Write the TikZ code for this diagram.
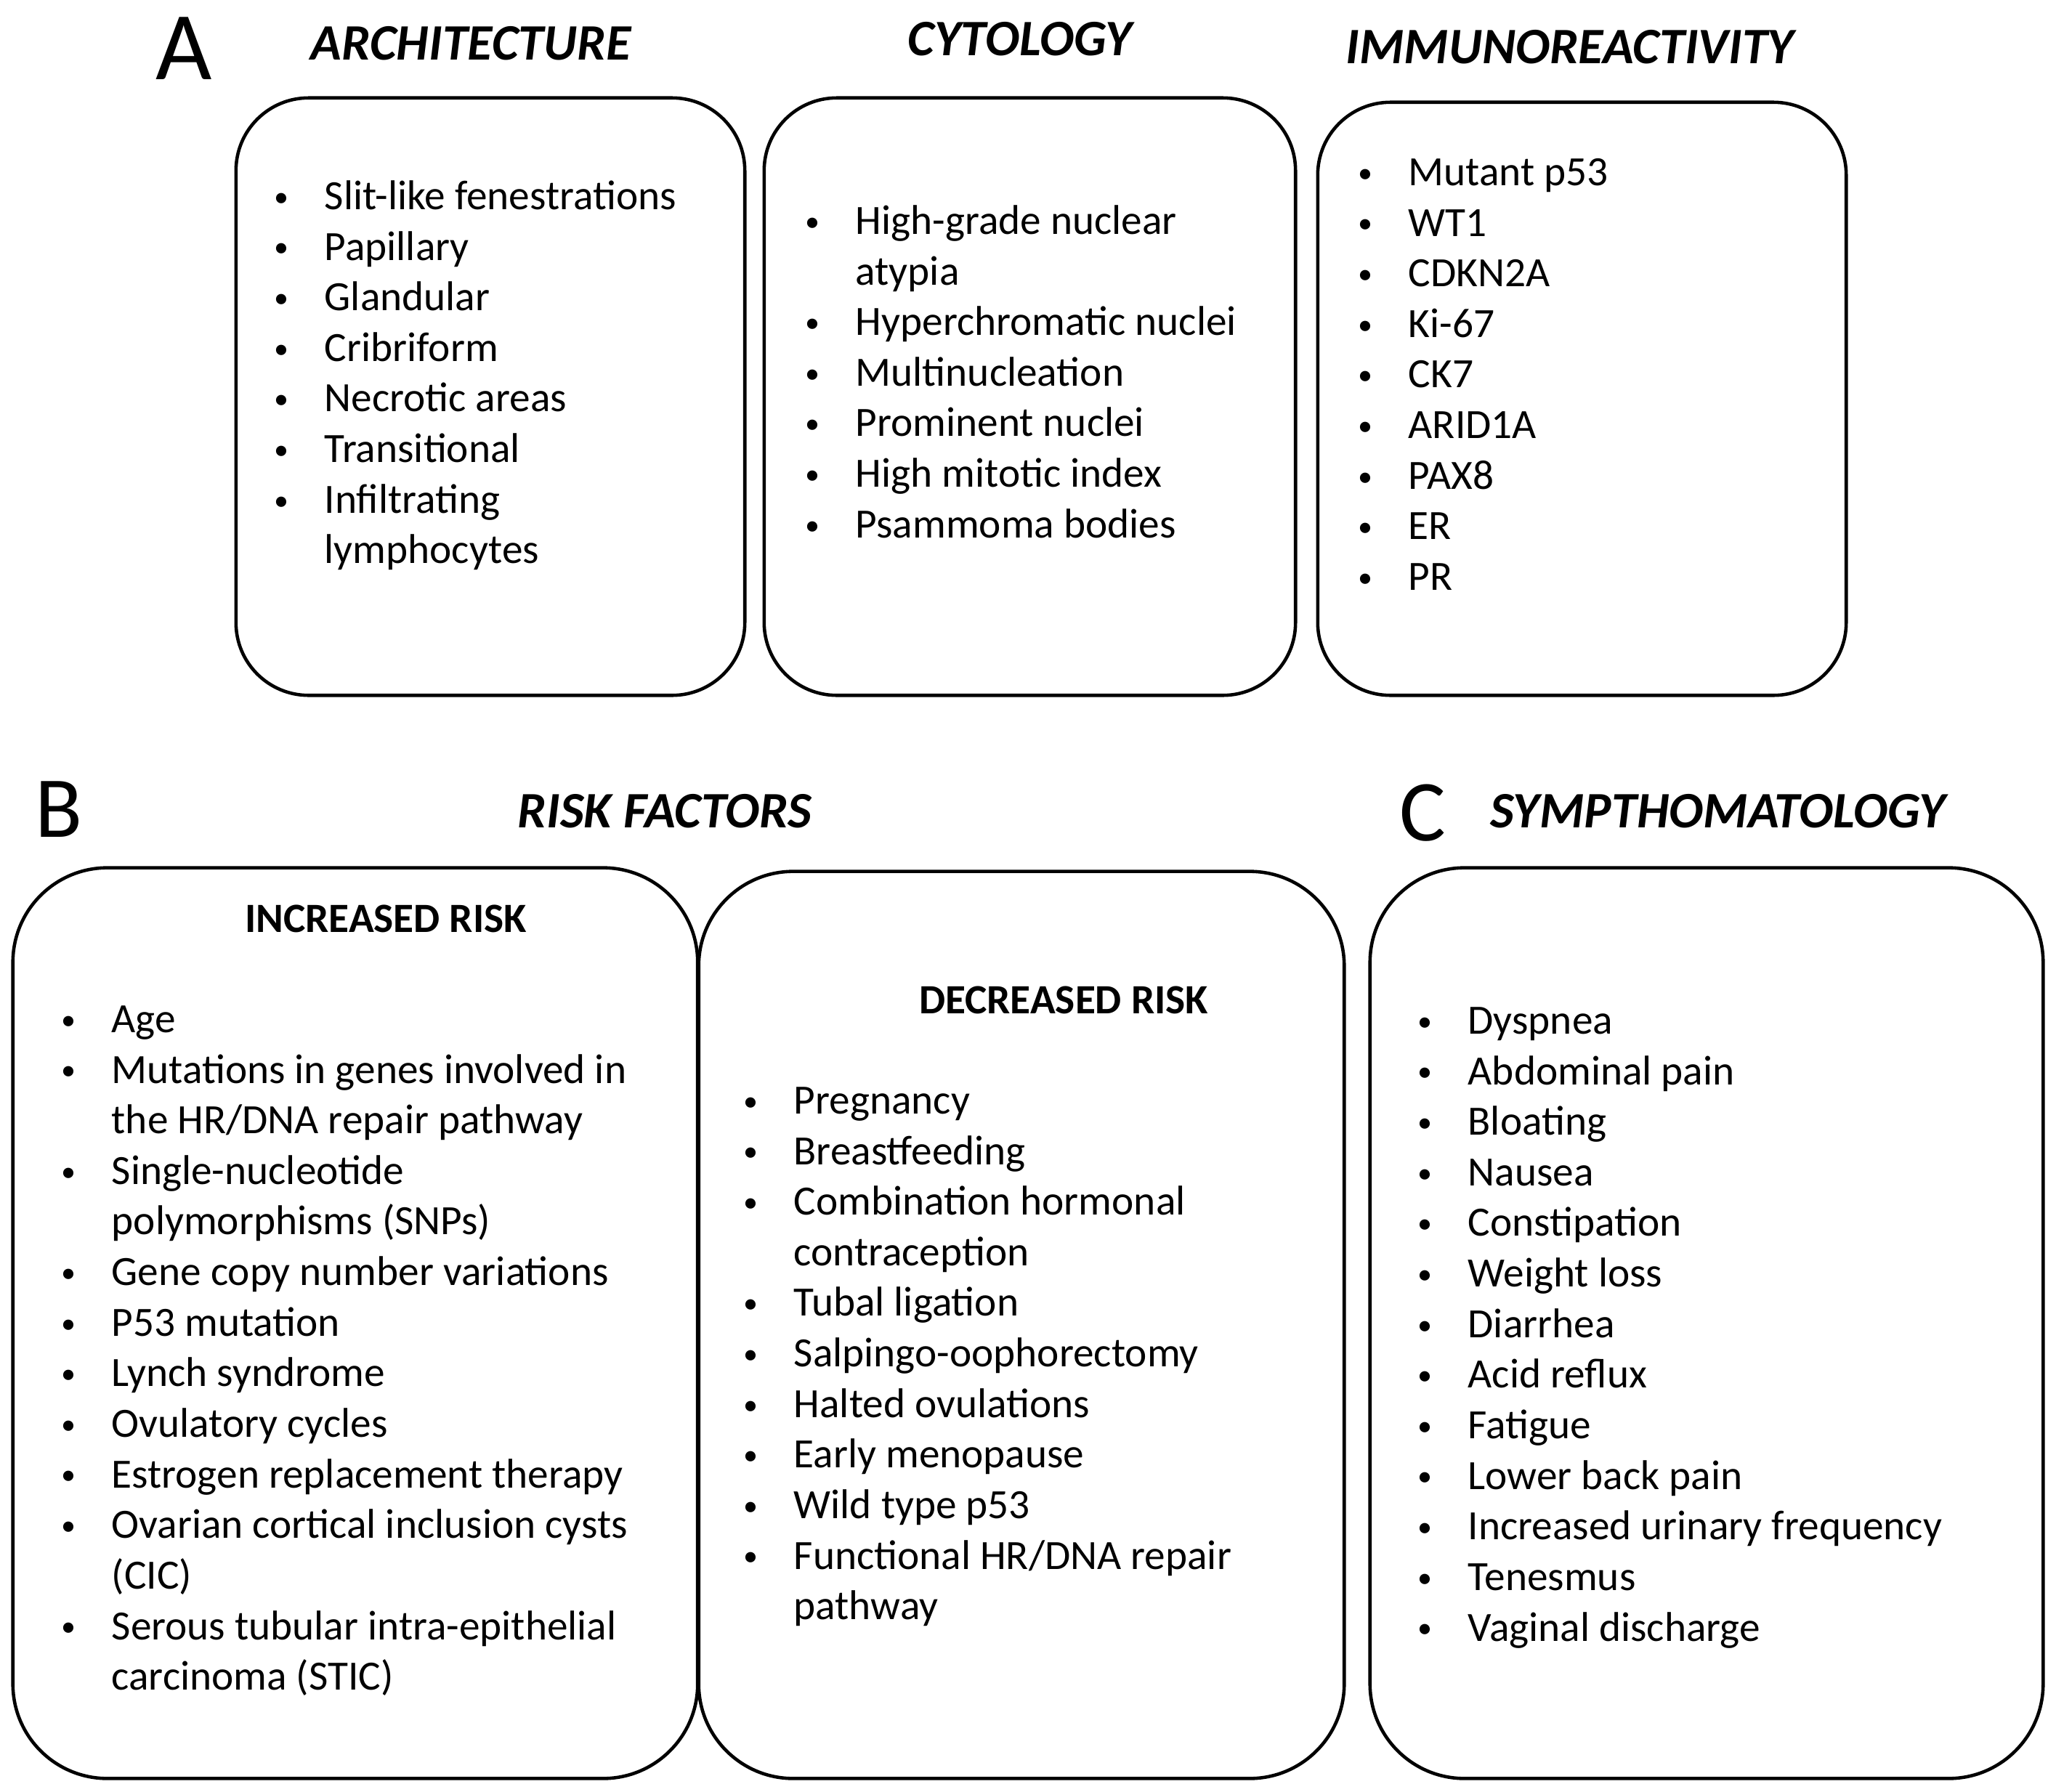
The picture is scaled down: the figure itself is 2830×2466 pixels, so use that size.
\documentclass[tikz,border=0pt]{standalone}
\usepackage{fontspec}
\setmainfont{Carlito}
\usepackage{tikz}
\usetikzlibrary{positioning}

\newcommand{\bul}{\llap{\raisebox{1.2pt}{\scalebox{0.7}{\textbullet}}\hspace{14pt}}}

\tikzset{
  panel/.style={draw, line width=1.3pt, rounded corners=1cm},
  bigpanel/.style={panel, rounded corners=1.3cm},
  listtext/.style={anchor=north west, inner sep=0pt,
    font=\fontsize{16.3}{19.8}\selectfont},
  heading/.style={inner sep=0pt, font=\fontsize{20}{24}\selectfont\bfseries\itshape},
  subhead/.style={inner sep=0pt, font=\fontsize{16.3}{19.8}\selectfont\bfseries},
  letter/.style={inner sep=0pt, font=\fontsize{34}{40}\selectfont}
}

\begin{document}
\begin{tikzpicture}[x=0.01cm, y=-0.01cm]
\useasboundingbox (0,0) rectangle (2830,2466);

% panel A
\node[letter, font=\fontsize{38}{44}\selectfont] (lA) at (253,67) {A};
\node[heading] (archtitle) at (648,60) {ARCHITECTURE};
\node[heading] (cyttitle) at (1404,54) {CYTOLOGY};
\node[heading] (immtitle) at (2161,65) {IMMUNOREACTIVITY};

\node[panel, minimum width=7cm, minimum height=8.22cm] (arch) at (675,546) {};
\node[panel, minimum width=7.31cm, minimum height=8.22cm] (cyt) at (1417.5,546) {};
\node[panel, minimum width=7.27cm, minimum height=8.16cm] (imm) at (2177.5,549) {};

\node[listtext] (archlist) at (446,239) {\begin{tabular}{@{}l@{}}
\bul Slit-like fenestrations\\
\bul Papillary\\
\bul Glandular\\
\bul Cribriform\\
\bul Necrotic areas\\
\bul Transitional\\
\bul Infiltrating\\
lymphocytes
\end{tabular}};

\node[listtext] (cytlist) at (1177,273) {\begin{tabular}{@{}l@{}}
\bul High-grade nuclear\\
atypia\\
\bul Hyperchromatic nuclei\\
\bul Multinucleation\\
\bul Prominent nuclei\\
\bul High mitotic index\\
\bul Psammoma bodies
\end{tabular}};

\node[listtext] (immlist) at (1938,206) {\begin{tabular}{@{}l@{}}
\bul Mutant p53\\
\bul WT1\\
\bul CDKN2A\\
\bul Ki-67\\
\bul CK7\\
\bul ARID1A\\
\bul PAX8\\
\bul ER\\
\bul PR
\end{tabular}};

% panel B
\node[letter] (lB) at (81,1114) {B};
\node[heading] (risktitle) at (915,1117) {RISK FACTORS};

\node[bigpanel, minimum width=9.42cm, minimum height=12.53cm] (inc) at (489,1821.5) {};
\node[bigpanel, minimum width=8.88cm, minimum height=12.48cm] (dec) at (1406,1824) {};

\node[subhead] (inchead) at (531,1265) {INCREASED RISK};
\node[subhead] (dechead) at (1464,1377) {DECREASED RISK};

\node[listtext] (inclist) at (153,1372) {\begin{tabular}{@{}l@{}}
\bul Age\\
\bul Mutations in genes involved in\\
the HR/DNA repair pathway\\
\bul Single-nucleotide\\
polymorphisms (SNPs)\\
\bul Gene copy number variations\\
\bul P53 mutation\\
\bul Lynch syndrome\\
\bul Ovulatory cycles\\
\bul Estrogen replacement therapy\\
\bul Ovarian cortical inclusion cysts\\
(CIC)\\
\bul Serous tubular intra-epithelial\\
carcinoma (STIC)
\end{tabular}};

\node[listtext] (declist) at (1092,1484) {\begin{tabular}{@{}l@{}}
\bul Pregnancy\\
\bul Breastfeeding\\
\bul Combination hormonal\\
contraception\\
\bul Tubal ligation\\
\bul Salpingo-oophorectomy\\
\bul Halted ovulations\\
\bul Early menopause\\
\bul Wild type p53\\
\bul Functional HR/DNA repair\\
pathway
\end{tabular}};

% panel C
\node[letter] (lC) at (1958,1119) {C};
\node[heading] (symtitle) at (2365,1117) {SYMPTHOMATOLOGY};

\node[bigpanel, minimum width=9.26cm, minimum height=12.53cm] (sym) at (2349,1821.5) {};

\node[listtext] (symlist) at (2020,1374) {\begin{tabular}{@{}l@{}}
\bul Dyspnea\\
\bul Abdominal pain\\
\bul Bloating\\
\bul Nausea\\
\bul Constipation\\
\bul Weight loss\\
\bul Diarrhea\\
\bul Acid reflux\\
\bul Fatigue\\
\bul Lower back pain\\
\bul Increased urinary frequency\\
\bul Tenesmus\\
\bul Vaginal discharge
\end{tabular}};
\end{tikzpicture}
\end{document}
